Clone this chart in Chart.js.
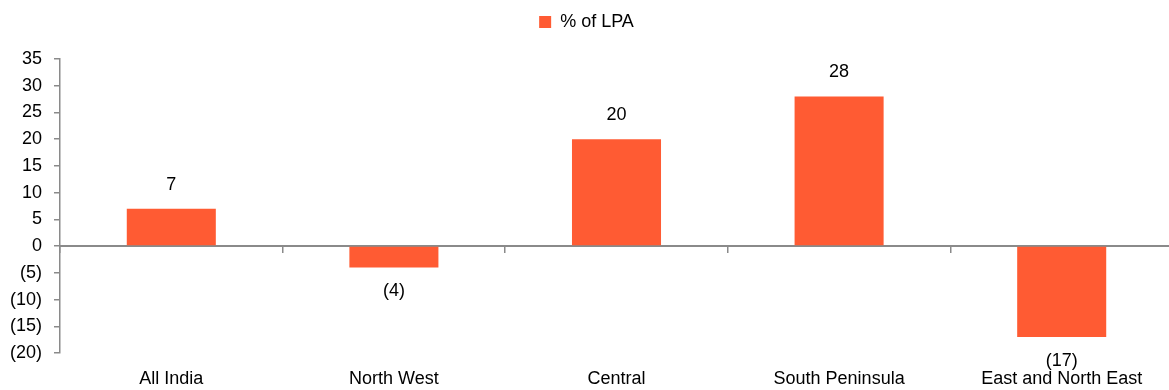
<!DOCTYPE html>
<html>
<head>
<meta charset="utf-8">
<script src="https://cdn.jsdelivr.net/npm/chart.js@4/dist/chart.umd.min.js"></script>
<style>
  html, body { margin: 0; padding: 0; background: #fff; overflow: hidden; }
  #wrap { position: absolute; left: 0; top: 0; width: 1173px; height: 390px; }
</style>
</head>
<body>
<div id="wrap"><canvas id="c" width="1173" height="390"></canvas></div>
<script>
// Monsoon rainfall by region, % deviation from the long period average
const regions = ['All India', 'North West', 'Central', 'South Peninsula', 'East and North East'];
const pctOfLPA = [7, -4, 20, 28, -17];
const seriesName = '% of LPA';
const yMin = -20, yMax = 35, yStep = 5;

const FONT = '"Liberation Sans Narrow", "Arial Narrow", "Liberation Sans", Arial, sans-serif';
const FS = 18;
const BAR = '#FF5B33';
const AXIS = '#8a8a8a';

const fmt = v => (v < 0 ? '(' + Math.abs(v) + ')' : String(v));

// extra room between the legend and the plot
const legendGap = {
  id: 'legendGap',
  beforeInit(chart) {
    const fit = chart.legend.fit;
    chart.legend.fit = function () {
      fit.call(this);
      this.height += 18;
    };
  }
};

// value labels above positive bars, below negative ones
const valueLabels = {
  id: 'valueLabels',
  afterDatasetsDraw(chart) {
    const ctx = chart.ctx;
    const meta = chart.getDatasetMeta(0);
    ctx.save();
    ctx.font = FS + 'px ' + FONT;
    ctx.fillStyle = '#000';
    ctx.textAlign = 'center';
    ctx.textBaseline = 'middle';
    meta.data.forEach((bar, i) => {
      const v = chart.data.datasets[0].data[i];
      const y = v >= 0 ? bar.y - 24 : bar.y + 24;
      ctx.fillText(fmt(v), bar.x, y);
    });
    ctx.restore();
  }
};

new Chart(document.getElementById('c'), {
  type: 'bar',
  data: {
    labels: regions,
    datasets: [{
      label: seriesName,
      data: pctOfLPA,
      backgroundColor: BAR,
      borderWidth: 0,
      categoryPercentage: 1,
      barPercentage: 0.4,
      xAxisID: 'x'
    }]
  },
  options: {
    responsive: false,
    animation: false,
    layout: { padding: 0 },
    plugins: {
      tooltip: { enabled: false },
      legend: {
        display: true,
        position: 'top',
        labels: {
          boxWidth: 12,
          boxHeight: 12,
          padding: 13,
          color: '#000',
          font: { family: FONT, size: FS }
        }
      }
    },
    scales: {
      x: {
        type: 'category',
        position: 'bottom',
        afterFit(scale) { scale.height = 37; },
        grid: { display: false },
        border: { display: false },
        ticks: {
          color: '#000',
          padding: 7,
          maxRotation: 0,
          autoSkip: false,
          font: { family: FONT, size: FS }
        }
      },
      zero: {
        type: 'category',
        axis: 'x',
        position: { y: 0 },
        offset: true,
        grid: {
          offset: true,
          drawOnChartArea: false,
          drawTicks: true,
          tickLength: 6,
          color: AXIS,
          lineWidth: 1.5
        },
        border: { display: true, color: AXIS, width: 2 },
        ticks: { display: false }
      },
      y: {
        min: yMin,
        max: yMax,
        afterFit(scale) { scale.width = 60; },
        grid: {
          drawOnChartArea: false,
          drawTicks: true,
          tickLength: 6,
          color: AXIS,
          lineWidth: 1.5
        },
        border: { display: true, color: AXIS, width: 1.5 },
        ticks: {
          stepSize: yStep,
          autoSkip: false,
          padding: 12,
          color: '#000',
          font: { family: FONT, size: FS },
          callback: v => fmt(v)
        }
      }
    }
  },
  plugins: [legendGap, valueLabels]
});
</script>
</body>
</html>
